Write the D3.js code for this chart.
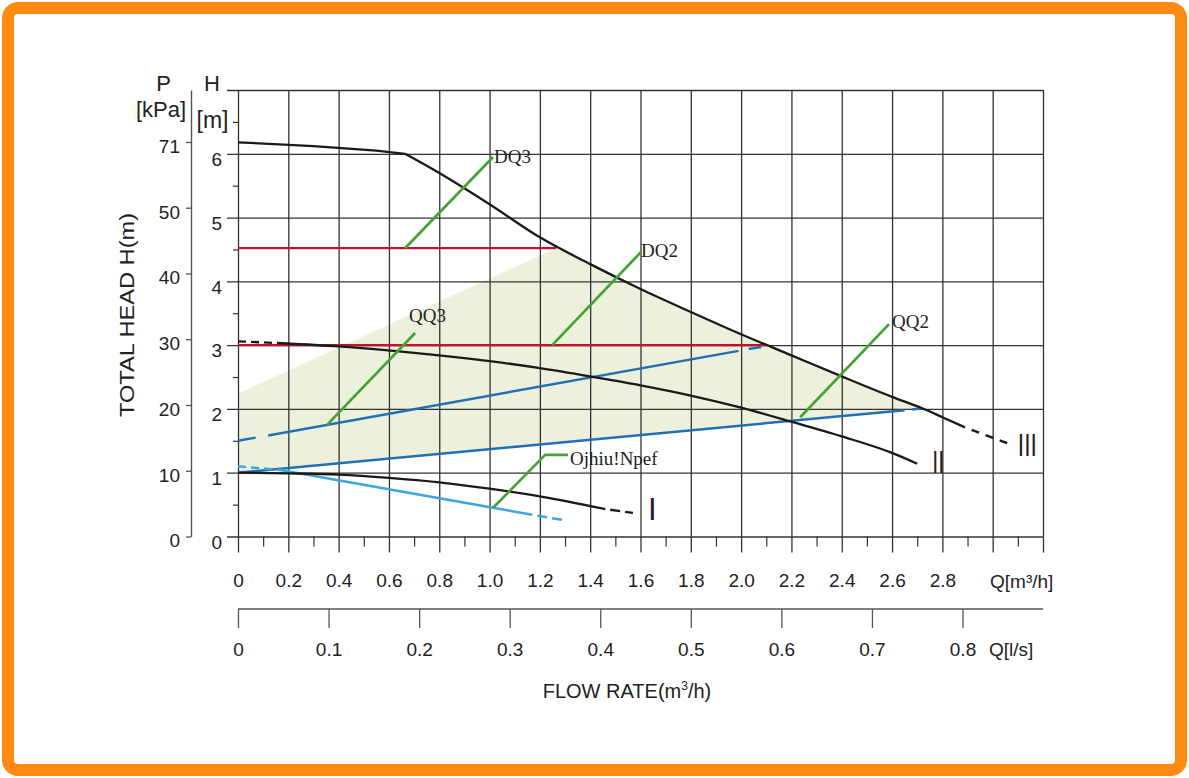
<!DOCTYPE html>
<html><head><meta charset="utf-8">
<script src="https://cdn.jsdelivr.net/npm/d3@7"></script>
<style>
html,body{margin:0;padding:0;background:#fff;}
svg{display:block;}
text{font-family:"Liberation Sans",Arial,sans-serif;fill:#222;}
.serif{font-family:"Liberation Serif","Times New Roman",serif;}
</style></head>
<body>
<script>
// ---------- data ----------
const qTicks = [0,0.2,0.4,0.6,0.8,1.0,1.2,1.4,1.6,1.8,2.0,2.2,2.4,2.6,2.8,3.0,3.2];
const qLabels = ["0","0.2","0.4","0.6","0.8","1.0","1.2","1.4","1.6","1.8","2.0","2.2","2.4","2.6","2.8","",""];
const qMinor = [0.1,0.3,0.5,0.7,0.9,1.1,1.3,1.5,1.7,1.9,2.1,2.3,2.5,2.7,2.9,3.1];
const lsTicks = [0,0.1,0.2,0.3,0.4,0.5,0.6,0.7,0.8];
const lsLabels = ["0","0.1","0.2","0.3","0.4","0.5","0.6","0.7","0.8"];
const hTicks = [0,1,2,3,4,5,6,7];
const hLabels = ["0","1","2","3","4","5","6",""];
const hMinor = [0.5,1.5,2.5,3.5,4.5,5.5,6.5];
const pTicks = [0,10,20,30,40,50,60];
const pLabels = ["0","10","20","30","40","50","71"];

// curves [Q m3/h, H m]
const curveIIIflat = [[0,6.18],[0.3,6.12],[0.55,6.05],[0.664,6.0]];
const curveIII = [[0.664,6.0],[0.8,5.70],[1.0,5.21],[1.2,4.69],[1.4,4.27],[1.6,3.88],[1.8,3.52],[2.0,3.17],[2.2,2.84],[2.4,2.51],[2.6,2.19],[2.72,2.01],[2.8,1.87],[2.89,1.71]];
const curveIIIdash = [[2.89,1.71],[3.08,1.43]];
const curveII = [[0.175,3.03],[0.4,2.98],[0.7,2.88],[1.0,2.75],[1.2,2.64],[1.4,2.51],[1.6,2.37],[1.8,2.21],[2.0,2.02],[2.2,1.80],[2.4,1.57],[2.6,1.31],[2.7,1.14]];
const curveIIdash = [[0,3.06],[0.175,3.03]];
const curveI = [[0,1.0],[0.2,0.99],[0.4,0.97],[0.6,0.92],[0.8,0.85],[1.0,0.75],[1.2,0.63],[1.46,0.43]];
const curveIdash = [[1.46,0.43],[1.57,0.37]];
const night = [[0.175,1.04],[1.17,0.34]];
const nightDashStart = [[0,1.10],[0.175,1.04]];
const nightDashEnd = [[1.17,0.34],[1.29,0.26]];
const blueLow = [[0,1.0],[2.65,1.98]];
const blueLowDash = [[2.68,1.99],[2.72,2.01]];
const blueUp = [[0.12,1.585],[1.99,2.91]];
const blueUpDashes = [[[0,1.50],[0.07,1.55]],[[2.03,2.94],[2.08,2.97]]];
const redHigh = [[0,4.52],[1.265,4.52]];
const redLow = [[0,3.0],[2.1,3.0]];
const shadeTop = [[0,2.24],[1.265,4.52]];
const shadeEnd = 2.72;

// leaders: from, (via), to and label text
const leaders = [
  {pts:[[0.664,4.52],[1.014,5.95]], text:"DQ3"},
  {pts:[[1.249,3.0],[1.602,4.46]], text:"DQ2"},
  {pts:[[0.354,1.75],[0.704,3.19]], text:"QQ3"},
  {pts:[[2.235,1.87],[2.588,3.33]], text:"QQ2"},
  {pts:[[1.014,0.45],[1.221,1.28],[1.312,1.28]], text:"Ojhiu!Npef"}
];
const romans = [{t:"III", at:[3.10,1.45]},{t:"II", at:[2.76,1.18]},{t:"I", at:[1.63,0.44]}];

// ---------- drawing ----------
const W=1189, H=778;
const svg = d3.select("body").append("svg").attr("width",W).attr("height",H);
svg.append("rect").attr("width",W).attr("height",H).attr("fill","#fff");

const x = d3.scaleLinear().domain([0,3.2]).range([238,1043]);
const y = d3.scaleLinear().domain([0,7]).range([536.5,90]);
const xl = d3.scaleLinear().domain([0,3.2/3.6]).range([238,1043]);
const yP = d3.scaleLinear().domain([0,67.9]).range([536.5,90]);
const line = d3.line().x(d=>x(d[0])).y(d=>y(d[1]));
const smooth = d3.line().x(d=>x(d[0])).y(d=>y(d[1])).curve(d3.curveMonotoneX);

// shaded region
const blueAt = q => blueLow[0][1]+(blueLow[1][1]-blueLow[0][1])*q/blueLow[1][0];
const shadeCurve = [shadeTop[1]].concat(curveIII.filter(d=>d[0]>shadeTop[1][0] && d[0]<=shadeEnd));
const shadePath = line([shadeTop[0]]) + smooth(shadeCurve).replace(/^M/,"L") + line([[shadeEnd,blueAt(shadeEnd)],blueLow[0]]).replace(/^M/,"L") + "Z";
svg.append("path").attr("d", shadePath).attr("fill","#edf1dc").attr("stroke","none");

// grid: verticals
const gridColor="#333";
svg.append("g").attr("transform",`translate(0,${y(0)})`)
  .call(d3.axisBottom(x).tickValues(qTicks).tickSize(-(y(0)-y(7))).tickFormat(""))
  .call(g=>g.select(".domain").remove())
  .call(g=>g.selectAll("line").attr("stroke",gridColor).attr("stroke-width",1.3));
// horizontals + H labels
svg.append("g").attr("transform",`translate(227,0)`)
  .call(d3.axisLeft(y).tickValues(hTicks).tickSize(-(1043-227)).tickPadding(5).tickFormat((d,i)=>hLabels[i]))
  .call(g=>g.select(".domain").remove())
  .call(g=>g.selectAll("line").attr("stroke",gridColor).attr("stroke-width",1.3))
  .call(g=>g.selectAll("text").attr("font-size",19).attr("dy","0.62em").attr("fill","#222")
    .attr("font-family",'"Liberation Sans",Arial,sans-serif'));
// H minor ticks
svg.append("g").attr("transform",`translate(238,0)`)
  .call(d3.axisLeft(y).tickValues(hMinor).tickSize(5).tickFormat(""))
  .call(g=>g.select(".domain").remove())
  .call(g=>g.selectAll("line").attr("stroke",gridColor).attr("stroke-width",1.2));

// Q m3/h axis ticks
svg.append("g").attr("transform",`translate(0,${y(0)})`)
  .call(d3.axisBottom(x).tickValues(qTicks).tickSize(16).tickPadding(21).tickFormat((d,i)=>qLabels[i]))
  .call(g=>g.select(".domain").remove())
  .call(g=>g.selectAll("line").attr("stroke",gridColor).attr("stroke-width",1.3))
  .call(g=>g.selectAll("text").attr("font-size",19).attr("fill","#222")
    .attr("font-family",'"Liberation Sans",Arial,sans-serif'));
svg.append("g").attr("transform",`translate(0,${y(0)})`)
  .call(d3.axisBottom(x).tickValues(qMinor).tickSize(10).tickFormat(""))
  .call(g=>g.select(".domain").remove())
  .call(g=>g.selectAll("line").attr("stroke",gridColor).attr("stroke-width",1.2));
svg.append("text").attr("x",990).attr("y",588).attr("font-size",19).text("Q[m³/h]");

// Q l/s axis
svg.append("g").attr("transform",`translate(0,609)`)
  .call(d3.axisBottom(xl).tickValues(lsTicks).tickSize(19).tickPadding(15).tickSizeOuter(0).tickFormat((d,i)=>lsLabels[i]))
  .call(g=>g.select(".domain").attr("stroke","#555").attr("stroke-width",1.6).attr("d",`M238,0H1043`))
  .call(g=>g.selectAll("line").attr("stroke","#555").attr("stroke-width",1.3))
  .call(g=>g.selectAll("text").attr("font-size",19).attr("fill","#222")
    .attr("font-family",'"Liberation Sans",Arial,sans-serif'));
svg.append("text").attr("x",989).attr("y",656).attr("font-size",19).text("Q[l/s]");

// P axis
svg.append("g").attr("transform",`translate(191,0)`)
  .call(d3.axisLeft(yP).tickValues(pTicks).tickSize(5).tickSizeOuter(0).tickPadding(6).tickFormat((d,i)=>pLabels[i]))
  .call(g=>g.select(".domain").attr("stroke","#555").attr("stroke-width",1.4))
  .call(g=>g.selectAll("line").attr("stroke","#555").attr("stroke-width",1.3))
  .call(g=>g.selectAll("text").attr("font-size",19).attr("dy","0.55em").attr("fill","#222")
    .attr("font-family",'"Liberation Sans",Arial,sans-serif'));

// axis titles
svg.append("text").attr("x",163.5).attr("y",91).attr("font-size",22).attr("text-anchor","middle").text("P");
svg.append("text").attr("x",161).attr("y",117).attr("font-size",22).attr("text-anchor","middle").text("[kPa]");
svg.append("text").attr("x",212).attr("y",91).attr("font-size",22).attr("text-anchor","middle").text("H");
svg.append("text").attr("x",212.5).attr("y",128).attr("font-size",23).attr("text-anchor","middle").text("[m]");
svg.append("text").attr("transform","translate(133.5,315) rotate(-90)").attr("font-size",19.5)
  .attr("text-anchor","middle").attr("textLength",204).attr("lengthAdjust","spacingAndGlyphs").text("TOTAL HEAD H(m)");
const fr = svg.append("text").attr("x",627).attr("y",698).attr("font-size",20).attr("text-anchor","middle");
fr.append("tspan").text("FLOW RATE(m");
fr.append("tspan").attr("font-size",12).attr("dy",-8).text("3");
fr.append("tspan").attr("dy",8).text("/h)");

// lines
const black="#1a1a1a", red="#c8102e", blue="#1f70b5", lblue="#3ea6dd", green="#46a235";
function draw(data, color, w, dash, offset, gen){
  const p = svg.append("path").attr("d",(gen||line)(data)).attr("fill","none")
    .attr("stroke",color).attr("stroke-width",w).attr("stroke-linejoin","round");
  if(dash) p.attr("stroke-dasharray",dash);
  if(offset) p.attr("stroke-dashoffset",offset);
  return p;
}
draw(redHigh, red, 2.3);
draw(redLow, red, 2.3);
draw(blueLow, blue, 2.5);
draw(blueLowDash, blue, 2.5);
draw(blueUp, blue, 2.5);
blueUpDashes.forEach(d=>draw(d, blue, 2.5));
draw(night, lblue, 2.5);
draw(nightDashStart, lblue, 2.5, "8,5");
draw(nightDashEnd, lblue, 2.5, "10,5", 10);
draw(curveIIIflat, black, 2.3);
draw(curveIII, black, 2.3, null, null, smooth);
draw(curveIIIdash, black, 2.3, "8,7", 8);
draw(curveII, black, 2.3, null, null, smooth);
draw(curveIIdash, black, 2.3, "8,5");
draw(curveI, black, 2.3, null, null, smooth);
draw(curveIdash, black, 2.3, "10,5", 10);

// leaders & labels
const labelOffsets = {"DQ3":[1,6],"DQ2":[0,5],"QQ3":[-6,-11],"QQ2":[3,4],"Ojhiu!Npef":[2,10]};
leaders.forEach(l=>{
  draw(l.pts, green, 2.7);
  const e = l.pts[l.pts.length-1], o = labelOffsets[l.text];
  svg.append("text").attr("class","serif").attr("x",x(e[0])+o[0]).attr("y",y(e[1])+o[1])
    .attr("font-size",19).text(l.text);
});
romans.forEach(r=>{
  const t = svg.append("text").attr("x",x(r.at[0])).attr("y",y(r.at[1])+12).attr("font-size",31)
    .attr("font-family",'"Liberation Sans Narrow","Liberation Sans",Arial,sans-serif').attr("fill","#1a1a1a").text(r.t);
  if(r.t.length>1) t.attr("textLength", r.t.length===3?19:12).attr("lengthAdjust","spacingAndGlyphs");
});

// orange frame
svg.append("rect").attr("x",8).attr("y",8).attr("width",W-16).attr("height",H-16).attr("rx",10)
  .attr("fill","none").attr("stroke","#ff8a12").attr("stroke-width",12);
</script>
</body></html>
